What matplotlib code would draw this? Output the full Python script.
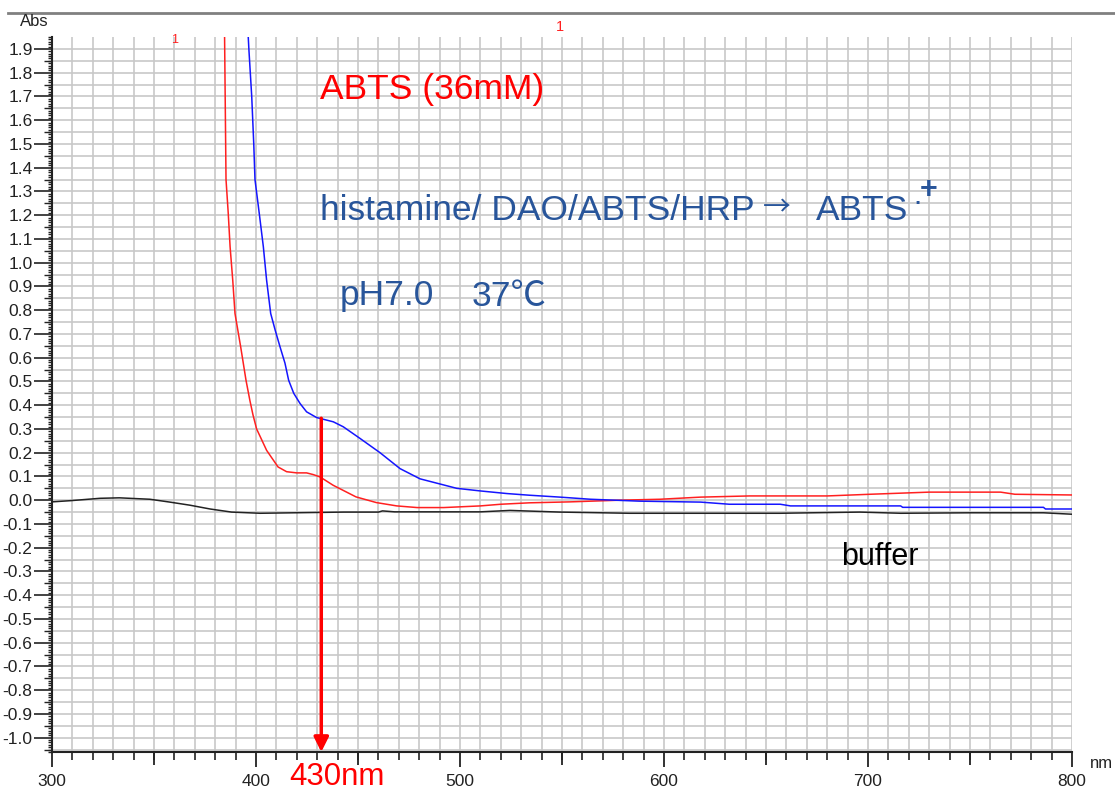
import matplotlib
matplotlib.use("Agg")
import matplotlib.pyplot as plt
import numpy as np
from matplotlib.ticker import MultipleLocator, FormatStrFormatter
from matplotlib.lines import Line2D

plt.rcParams['font.family'] = ['Liberation Sans', 'Noto Sans CJK SC', 'DejaVu Sans']

# ABTS (36mM) spectrum, red
abts_nm = [384.6, 385.3, 386.4, 387.3, 388.6, 389.7, 392.5, 395.1, 397.0, 398.5,
           400.3, 405.2, 410.8, 415.0, 420.0, 424.8, 428.0, 431.4, 437.8, 449.0, 459.0,
           469.0, 479.0, 492.0, 510.0, 520.0, 534.0, 554.0, 578.0, 598.0, 618.0, 642.0,
           680.0, 701.0, 730.0, 765.0, 772.0, 800.0]
abts_abs = [1.95, 1.35, 1.207, 1.067, 0.926, 0.786, 0.645, 0.505, 0.42, 0.36,
            0.30, 0.21, 0.14, 0.12, 0.115, 0.115, 0.108, 0.098, 0.063, 0.014, -0.01,
            -0.024, -0.031, -0.031, -0.024, -0.017, -0.011, -0.007, 0.0, 0.004, 0.013, 0.018,
            0.018, 0.025, 0.034, 0.034, 0.025, 0.022]

# histamine/DAO/ABTS/HRP spectrum, blue
hist_nm = [396.2, 396.5, 397.2, 397.9, 398.4, 398.9, 399.5, 401.6, 403.6, 405.2, 407.2,
           409.4, 411.8, 414.2, 416.0, 418.5, 421.6, 424.8, 429.7, 437.9, 442.8, 451.0, 460.8,
           470.6, 480.4, 498.4, 510.0, 523.0, 534.0, 549.0, 564.0, 588.0, 618.0, 632.0,
           657.0, 662.0, 716.0, 717.0, 786.0, 787.0, 800.0]
hist_abs = [1.95, 1.90, 1.80, 1.70, 1.60, 1.50, 1.35, 1.207, 1.067, 0.926, 0.786,
            0.716, 0.645, 0.577, 0.505, 0.45, 0.407, 0.372, 0.348, 0.33, 0.309, 0.26, 0.20,
            0.133, 0.09, 0.05, 0.039, 0.028, 0.021, 0.013, 0.004, -0.004, -0.008, -0.017,
            -0.017, -0.024, -0.024, -0.03, -0.03, -0.037, -0.037]

# buffer baseline, black
buf_nm = [300, 309, 323.5, 333, 348, 357.8, 367.6, 377.5, 388, 402, 443, 460, 462, 468,
          510, 524.5, 549, 583, 657, 696, 716, 750, 786, 800]
buf_abs = [-0.007, -0.002, 0.008, 0.01, 0.004, -0.008, -0.021, -0.037, -0.05, -0.055,
           -0.05, -0.05, -0.045, -0.049, -0.049, -0.043, -0.05, -0.055, -0.055, -0.05,
           -0.055, -0.053, -0.053, -0.059]

peak_nm = 432
peak_abs = 0.345

W, H = 1115, 792
fig = plt.figure(figsize=(W / 100, H / 100), dpi=100)
ax = fig.add_axes([52 / W, 1 - 752 / H, (1072 - 52) / W, (752 - 37) / H])

def px(x, y):
    return x / W, 1 - y / H

ax.set_xlim(300, 800)
ax.set_ylim(-1.06, 1.95)

# grid: 10 nm by 0.05 Abs
grid_c = '#c8c8c8'
ax.xaxis.set_minor_locator(MultipleLocator(10))
ax.grid(which='both', axis='x', color=grid_c, lw=1.2, zorder=0)
ax.hlines(np.arange(-1.05, 1.95, 0.05), 300, 800, color=grid_c, lw=1.2, zorder=0)

ax.plot(buf_nm, buf_abs, color='#222222', lw=1.1, zorder=3)
ax.plot(abts_nm, abts_abs, color='#ff2020', lw=1.1, zorder=3)
ax.plot(hist_nm, hist_abs, color='#1515ff', lw=1.1, zorder=3)

# 430 nm arrow
ax.annotate('', xy=(peak_nm, -1.06), xytext=(peak_nm, peak_abs),
            arrowprops=dict(arrowstyle='-|>', color='red', lw=2.5, mutation_scale=22,
                            shrinkA=0, shrinkB=0),
            annotation_clip=False, zorder=4)

# axes styling
for s in ['top', 'right']:
    ax.spines[s].set_visible(False)
ax.spines['left'].set_color('#222222')
ax.spines['bottom'].set_color('#222222')
ax.spines['left'].set_linewidth(1.5)
ax.spines['bottom'].set_linewidth(1.5)

ax.xaxis.set_major_locator(MultipleLocator(100))
ax.yaxis.set_major_locator(MultipleLocator(0.1))
ax.yaxis.set_minor_locator(MultipleLocator(0.01))
ax.yaxis.set_major_formatter(FormatStrFormatter('%.1f'))
ax.tick_params(axis='x', which='major', length=11, width=1.3, labelsize=12.5, pad=5, colors='#222222')
ax.tick_params(axis='x', which='minor', length=6, width=1.2, colors='#222222')
ax.tick_params(axis='y', which='major', length=13, width=1.2, labelsize=12.5, pad=1, colors='#222222')
ax.tick_params(axis='y', which='minor', length=3, width=1.0, colors='#222222')

# medium ticks at the half steps
secx = ax.secondary_xaxis('bottom')
secx.set_xticks(np.arange(350, 800, 100))
secx.tick_params(length=9, width=1.3, labelbottom=False, colors='#222222')
secx.spines['bottom'].set_visible(False)
secy = ax.secondary_yaxis('left')
secy.set_yticks(np.arange(-1.05, 1.95, 0.1))
secy.tick_params(length=6, width=1.0, labelleft=False, colors='#222222')
secy.spines['left'].set_visible(False)

# header line and axis names
fig.add_artist(Line2D([8 / W, 1], [1 - 13 / H, 1 - 13 / H], color='#808080', lw=2))
fig.text(*px(20, 21), 'Abs', fontsize=12, va='center', ha='left', color='#222222')
fig.text(*px(1090, 764), 'nm', fontsize=12, va='center', ha='left', color='#222222')
fig.text(*px(175, 40), '1', fontsize=9, va='center', ha='center', color='#ff2020')
fig.text(*px(560, 27), '1', fontsize=10.5, va='center', ha='center', color='#ff2020')

blue_txt = '#28559a'
fig.text(*px(320, 90), 'ABTS (36mM)', fontsize=25.5, color='red', va='center', ha='left')
fig.text(*px(320, 210), 'histamine/ DAO/ABTS/HRP', fontsize=25.5, color=blue_txt,
         va='center', ha='left')
fig.text(*px(777, 207), '\u2192', fontsize=20, color=blue_txt, va='center', ha='center',
         family=['Noto Sans CJK SC', 'DejaVu Sans'])
fig.text(*px(816, 210), 'ABTS', fontsize=25.5, color=blue_txt, va='center', ha='left')
fig.text(*px(917, 203), '\u00b7', fontsize=22, color=blue_txt, va='center', ha='center')
fig.text(*px(929, 190), '+', fontsize=22, color=blue_txt, va='center', ha='center',
         fontweight='bold')
fig.text(*px(340, 296), 'pH7.0', fontsize=25.5, color=blue_txt, va='center', ha='left')
fig.text(*px(472, 296), '37\u2103', fontsize=25.5, color=blue_txt, va='center', ha='left')

fig.text(*px(880, 557), 'buffer', fontsize=22, color='black', va='center', ha='center')
fig.text(*px(337, 777), '430nm', fontsize=22.5, color='red', va='center', ha='center')

fig.savefig('out.png', dpi=100)
